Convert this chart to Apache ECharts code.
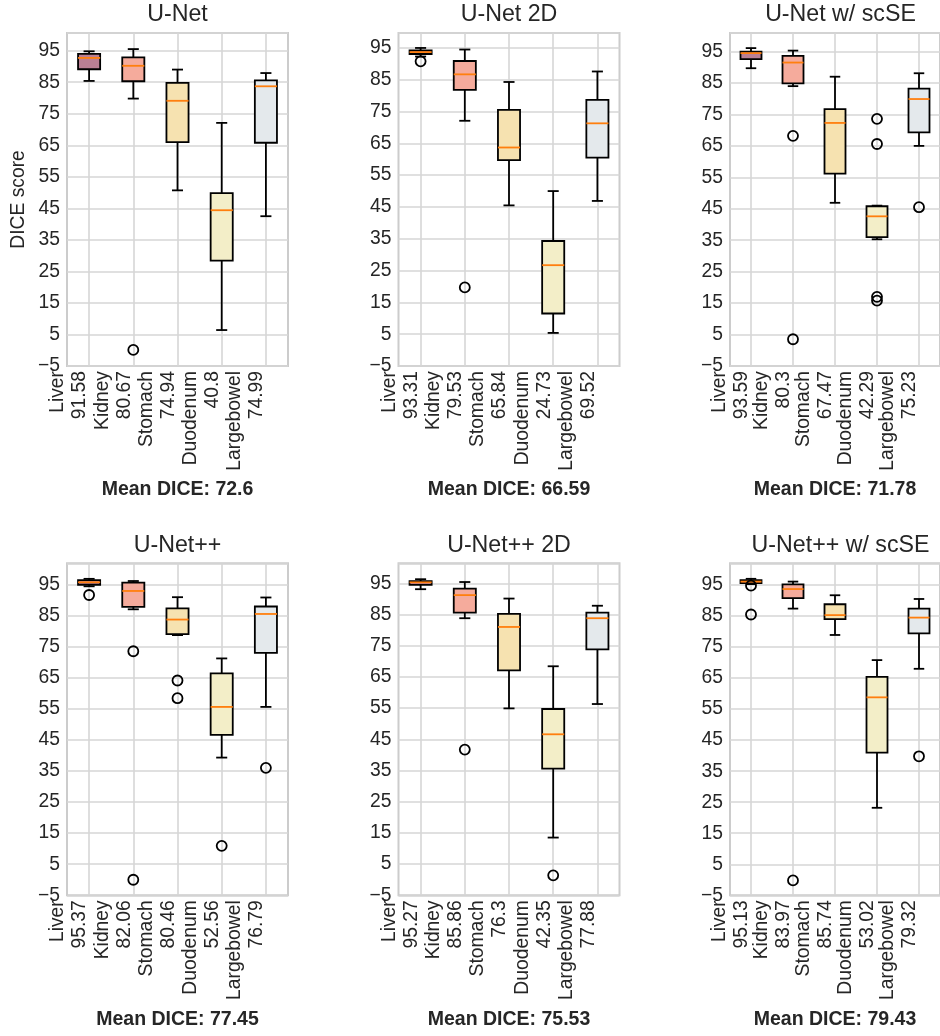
<!DOCTYPE html>
<html>
<head>
<meta charset="utf-8">
<script src="https://cdn.jsdelivr.net/npm/echarts@6/dist/echarts.min.js"></script>
<style>
  html, body { margin: 0; padding: 0; background: #ffffff; }
  #chart { width: 940px; height: 1036px; }
</style>
</head>
<body>
<div id="chart"></div>
<script>
// ---- data -------------------------------------------------------------
const organs = ['Liver', 'Kidney', 'Stomach', 'Duodenum', 'Largebowel'];
const modelNames = ['U-Net', 'U-Net 2D', 'U-Net w/ scSE', 'U-Net++', 'U-Net++ 2D', 'U-Net++ w/ scSE'];
const overallMean = ['72.6', '66.59', '71.78', '77.45', '75.53', '79.43'];

// per-organ mean DICE (shown under each organ name)
const meanUNet       = ['91.58', '80.67', '74.94', '40.8', '74.99'];
const meanUNet2D     = ['93.31', '79.53', '65.84', '24.73', '69.52'];
const meanUNetScse   = ['93.59', '80.3', '67.47', '42.29', '75.23'];
const meanUNetPP     = ['95.37', '82.06', '80.46', '52.56', '76.79'];
const meanUNetPP2D   = ['95.27', '85.86', '76.3', '42.35', '77.88'];
const meanUNetPPScse = ['95.13', '83.97', '85.74', '53.02', '79.32'];

// box statistics per organ: [lower whisker, Q1, median, Q3, upper whisker]
const boxUNet = [
  [85.4, 89.1, 92.7, 94.0, 94.8],
  [79.8, 85.3, 90.2, 92.9, 95.5],
  [50.7, 66.0, 79.1, 84.8, 89.0],
  [6.4, 28.4, 44.4, 49.8, 72.1],
  [42.5, 65.8, 83.7, 85.6, 87.9]
];
const boxUNet2D = [
  [92.3, 93.1, 93.7, 94.2, 95.0],
  [72.1, 81.8, 86.7, 90.9, 94.5],
  [45.5, 59.7, 63.7, 75.5, 84.3],
  [5.4, 11.5, 26.7, 34.3, 50.0],
  [46.9, 60.5, 71.3, 78.7, 87.6]
];
const boxUNetScse = [
  [89.7, 92.6, 94.5, 95.0, 96.1],
  [84.0, 84.9, 91.5, 93.6, 95.3],
  [46.9, 56.2, 72.3, 76.7, 87.0],
  [35.3, 36.0, 42.6, 45.8, 46.0],
  [65.0, 69.3, 79.9, 83.2, 88.1]
];
const boxUNetPP = [
  [94.4, 94.9, 95.7, 96.4, 96.8],
  [87.0, 87.8, 92.9, 95.6, 96.1],
  [78.7, 79.0, 83.7, 87.3, 90.9],
  [39.3, 46.6, 55.6, 66.4, 71.2],
  [55.6, 73.0, 85.5, 87.9, 90.8]
];
const boxUNetPP2D = [
  [93.1, 94.5, 95.3, 95.7, 96.3],
  [83.8, 85.6, 91.2, 93.3, 95.4],
  [54.9, 67.1, 81.0, 85.2, 90.1],
  [13.5, 35.6, 46.6, 54.7, 68.4],
  [56.3, 73.8, 83.8, 85.6, 87.8]
];
const boxUNetPPScse = [
  [95.3, 95.6, 96.1, 96.6, 97.0],
  [87.4, 90.8, 93.7, 95.2, 96.1],
  [78.9, 84.0, 85.3, 88.8, 91.7],
  [23.2, 41.0, 58.8, 65.4, 70.8],
  [68.0, 79.4, 84.5, 87.4, 90.5]
];

// outliers: [organ index, DICE]
const outUNet       = [[1, 0.1]];
const outUNet2D     = [[0, 90.8], [1, 19.7]];
const outUNetScse   = [[1, 68.2], [1, 3.5], [3, 73.6], [3, 65.6], [3, 17.0], [3, 15.8], [4, 45.5]];
const outUNetPP     = [[0, 91.6], [1, 73.5], [1, 0.0], [2, 64.1], [2, 58.4], [3, 10.9], [4, 36.0]];
const outUNetPP2D   = [[1, 41.7], [3, 1.4]];
const outUNetPPScse = [[0, 94.8], [0, 85.5], [1, -0.2], [4, 39.8]];

// ---- styling / layout -------------------------------------------------
const boxColors = ['#ba7f94', '#f5ab9c', '#f6e2b0', '#f3eec8', '#e4e9ec'];
const FONT = '"Liberation Sans", Arial, Helvetica, sans-serif';
const TEXT = '#262626';
const GRIDLINE = '#d6d6d6';

const colLeft = [67, 398.5, 730];
const rowTop = [33, 563.3];
const rowHeight = [333, 332];
const titleTop = [3.2, 533.8];
const plotWidth = 221;
const yTop = [100.6, 99.7, 100.9, 101.8, 101.4, 102.0];

const panels = [
  { title: modelNames[0], mean: overallMean[0], organMeans: meanUNet,       boxes: boxUNet,       outliers: outUNet },
  { title: modelNames[1], mean: overallMean[1], organMeans: meanUNet2D,     boxes: boxUNet2D,     outliers: outUNet2D },
  { title: modelNames[2], mean: overallMean[2], organMeans: meanUNetScse,   boxes: boxUNetScse,   outliers: outUNetScse },
  { title: modelNames[3], mean: overallMean[3], organMeans: meanUNetPP,     boxes: boxUNetPP,     outliers: outUNetPP },
  { title: modelNames[4], mean: overallMean[4], organMeans: meanUNetPP2D,   boxes: boxUNetPP2D,   outliers: outUNetPP2D },
  { title: modelNames[5], mean: overallMean[5], organMeans: meanUNetPPScse, boxes: boxUNetPPScse, outliers: outUNetPPScse }
];

// box + whiskers + half-width caps + median line
function renderBox(params, api) {
  const k = api.value(0);
  const lo = api.coord([k, api.value(1)]);
  const q1 = api.coord([k, api.value(2)]);
  const md = api.coord([k, api.value(3)]);
  const q3 = api.coord([k, api.value(4)]);
  const hi = api.coord([k, api.value(5)]);
  const band = api.size([1, 0])[0];
  const half = band * 0.25;
  const cap = band * 0.125;
  const x = lo[0];
  const edge = { stroke: '#000000', lineWidth: 1.8, fill: null };
  return {
    type: 'group',
    children: [
      { type: 'line', shape: { x1: x, y1: q3[1], x2: x, y2: hi[1] }, style: edge },
      { type: 'line', shape: { x1: x, y1: q1[1], x2: x, y2: lo[1] }, style: edge },
      { type: 'line', shape: { x1: x - cap, y1: hi[1], x2: x + cap, y2: hi[1] }, style: edge },
      { type: 'line', shape: { x1: x - cap, y1: lo[1], x2: x + cap, y2: lo[1] }, style: edge },
      { type: 'rect', shape: { x: x - half, y: q3[1], width: half * 2, height: q1[1] - q3[1] },
        style: { fill: boxColors[k], stroke: '#000000', lineWidth: 1.8 } },
      { type: 'line', shape: { x1: x - half, y1: md[1], x2: x + half, y2: md[1] },
        style: { stroke: '#ff7f0e', lineWidth: 1.8 } }
    ]
  };
}

const option = { animation: false, backgroundColor: '#ffffff', title: [], grid: [], xAxis: [], yAxis: [], series: [] };

panels.forEach((p, i) => {
  const col = i % 3, row = Math.floor(i / 3);
  const left = colLeft[col];
  option.grid.push({
    left: left, top: rowTop[row], width: plotWidth, height: rowHeight[row],
    show: true, borderColor: '#cccccc', borderWidth: 2, backgroundColor: '#ffffff'
  });
  option.title.push({
    text: p.title, left: left + plotWidth / 2, top: titleTop[row], textAlign: 'center', padding: 0,
    textStyle: { fontFamily: FONT, fontSize: 23.2, fontWeight: 'normal', color: TEXT }
  });
  option.xAxis.push({
    type: 'category', gridIndex: i, data: organs, boundaryGap: true,
    axisLine: { show: false }, axisTick: { show: false },
    axisLabel: {
      interval: 0, rotate: 90, margin: 5, verticalAlign: 'bottom', lineHeight: 22,
      padding: [0, 0, -2, 0],
      fontFamily: FONT, fontSize: 19.3, color: TEXT,
      formatter: (v, idx) => v + '\n' + p.organMeans[idx]
    },
    splitLine: { show: true, alignWithLabel: true, lineStyle: { color: GRIDLINE, width: 1.6 } },
    name: 'Mean DICE: ' + p.mean, nameLocation: 'middle', nameGap: 124,
    nameTextStyle: { fontFamily: FONT, fontSize: 19.5, fontWeight: 'bold', color: TEXT, verticalAlign: 'middle' }
  });
  option.yAxis.push({
    type: 'value', gridIndex: i, min: -5, max: yTop[i], interval: 10,
    axisLine: { show: false }, axisTick: { show: false },
    axisLabel: {
      showMaxLabel: false, margin: 7, fontFamily: FONT, fontSize: 19.3, color: TEXT,
      formatter: v => String(Math.round(v)).replace('-', '\u2212')
    },
    splitLine: { show: true, lineStyle: { color: GRIDLINE, width: 1.6 } },
    name: i === 0 ? 'DICE score' : '', nameLocation: 'middle', nameGap: 48, nameRotate: 90,
    nameTextStyle: { fontFamily: FONT, fontSize: 19.3, color: TEXT, verticalAlign: 'middle' }
  });
  option.series.push({
    type: 'custom', xAxisIndex: i, yAxisIndex: i, z: 2, silent: true,
    data: p.boxes.map((b, k) => [k].concat(b)),
    encode: { x: 0, y: [1, 2, 3, 4, 5] },
    renderItem: renderBox
  });
  option.series.push({
    type: 'scatter', xAxisIndex: i, yAxisIndex: i, z: 3, silent: true,
    data: p.outliers, symbol: 'circle', symbolSize: 10,
    itemStyle: { color: 'rgba(0,0,0,0)', borderColor: '#000000', borderWidth: 1.8, opacity: 1 }
  });
});

const chart = echarts.init(document.getElementById('chart'), null, { renderer: 'canvas' });
chart.setOption(option);
</script>
</body>
</html>
